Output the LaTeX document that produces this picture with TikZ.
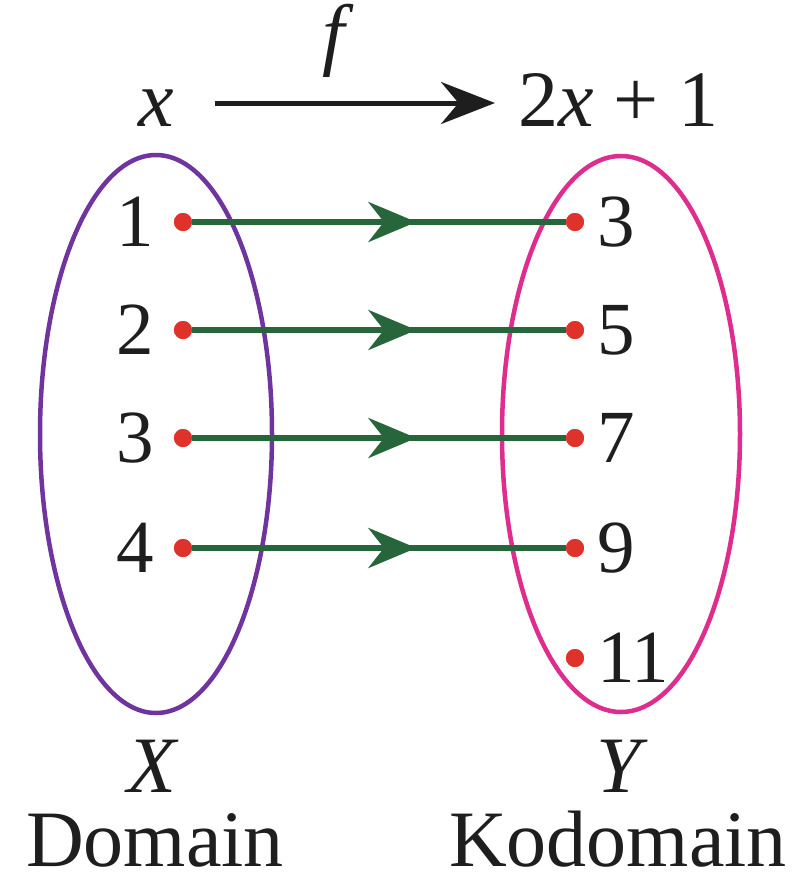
\documentclass[tikz,border=0pt]{standalone}
\usepackage{fontspec}
\setmainfont{Liberation Serif}
\usetikzlibrary{arrows.meta,decorations.markings}
\definecolor{purp}{RGB}{112,52,158}
\definecolor{pinkc}{RGB}{222,45,140}
\definecolor{grn}{RGB}{38,102,58}
\definecolor{dotred}{RGB}{222,50,42}
\definecolor{ink}{RGB}{30,30,30}
\begin{document}
\begin{tikzpicture}[x=1pt,y=-1pt,
 txt/.style={font=\fontsize{80}{90}\selectfont, text=ink, inner sep=0pt},
 num/.style={font=\fontsize{75}{80}\selectfont, text=ink, inner sep=0pt},
 pt/.style={circle, fill=dotred, inner sep=0pt, minimum size=18pt},
 maparrow/.style={draw=grn, line width=6pt, postaction={decorate},
   decoration={markings, mark=at position 0.6 with {\arrow[grn]{Stealth[length=48pt,width=40pt]}}}},
 setline/.style={line width=4.5pt}
]
\useasboundingbox (0,0) rectangle (805,879);
% sets
\draw[purp, setline] (156,434) ellipse [x radius=116pt, y radius=279pt];
\draw[pinkc, setline] (621,434) ellipse [x radius=119pt, y radius=278pt];
% points
\foreach \i/\y in {1/222,2/330,3/438,4/548} {
  \node[pt] (a\i) at (183,\y) {};
}
\foreach \i/\y in {1/222,2/330,3/438,4/548,5/658} {
  \node[pt] (b\i) at (575,\y) {};
}
% mapping arrows
\foreach \i in {1,2,3,4} {
  \draw[maparrow] (a\i) -- (b\i);
}
\foreach \i in {1,2,3,4} {
  \node[pt] at (a\i) {};
}
\foreach \i in {1,2,3,4,5} {
  \node[pt] at (b\i) {};
}
% labels
\foreach \i/\t in {1/1,2/2,3/3,4/4} {
  \node[num, anchor=base east] (la\i) at ([xshift=-29pt,yshift=-24pt]a\i.center) {\t};
}
\foreach \i/\t in {1/3,2/5,3/7,4/9,5/11} {
  \node[num, anchor=base west] (lb\i) at ([xshift=22pt,yshift=-24pt]b\i.center) {\t};
}
% top rule
\node[txt, anchor=base] (xl) at (156,126) {\textit{x}};
\node[txt, anchor=base] (fl) at (338,60) {\textit{f}};
\node[txt, anchor=base west] (fx) at (518,126) {2\textit{x} + 1};
\coordinate (tA) at (215,103);
\coordinate (tB) at (495,103);
\draw[ink, line width=5pt, -{Stealth[length=54pt,width=42pt]}] (tA) -- (tB);
% bottom labels
\node[txt, anchor=base] (Xl) at (153,792) {\textit{X}};
\node[txt, anchor=base] (Yl) at (622,792) {\textit{Y}};
\node[txt, anchor=base] (dom) at (155,866) {Domain};
\node[txt, anchor=base] (kod) at (618,866) {Kodomain};
\end{tikzpicture}
\end{document}
